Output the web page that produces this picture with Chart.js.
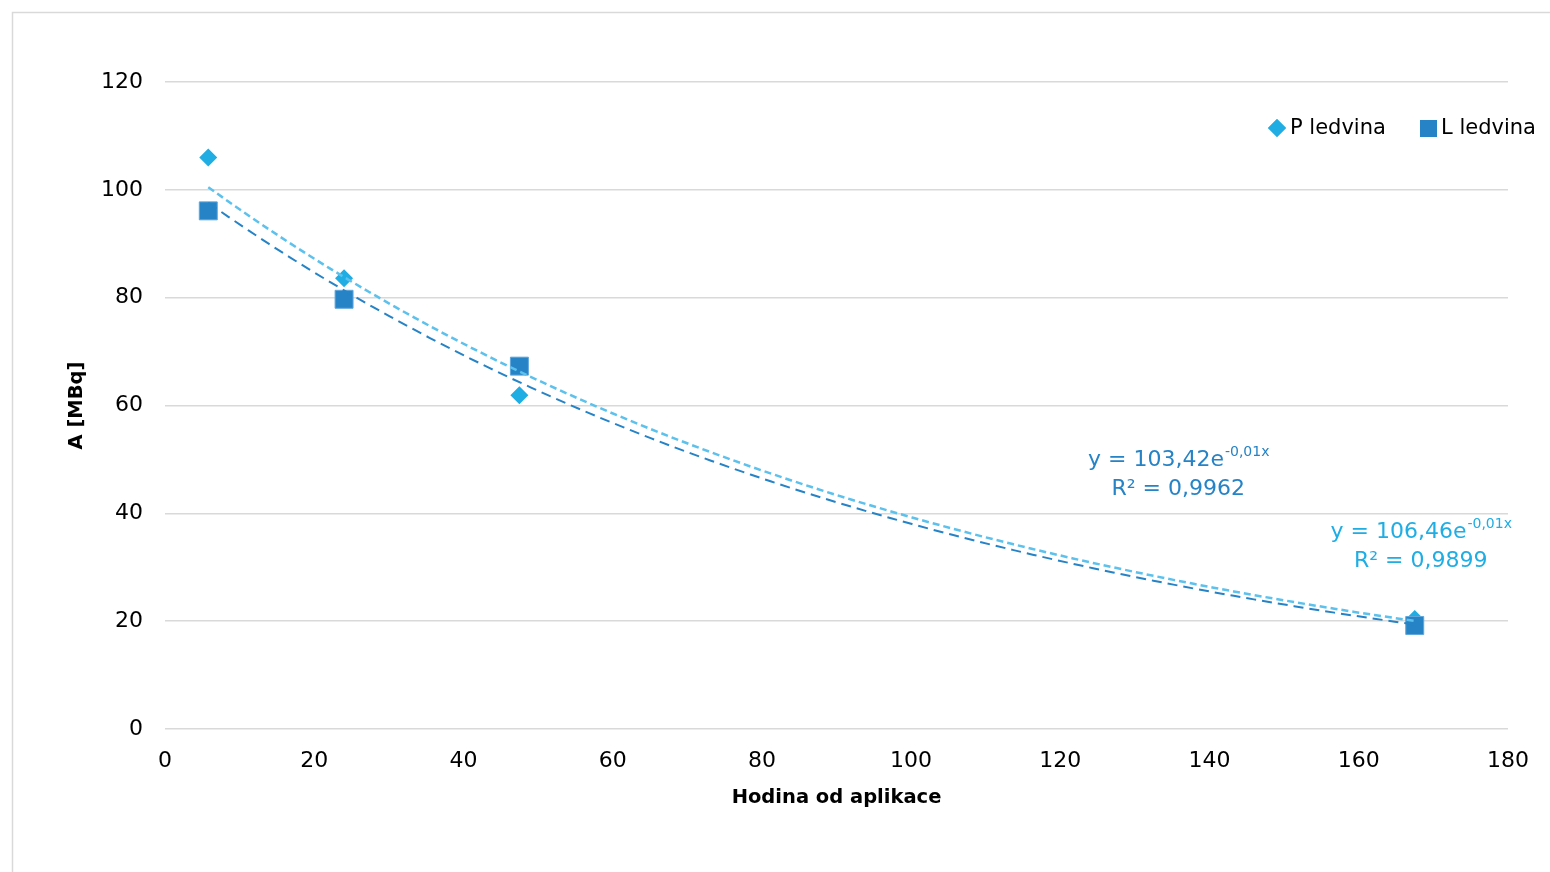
<!DOCTYPE html>
<html><head><meta charset="utf-8">
<script src="https://cdn.jsdelivr.net/npm/chart.js@4"></script>
<style>html,body{margin:0;padding:0;background:#fff;overflow:hidden}</style>
</head><body>
<canvas id="c" width="1550" height="872" style="width:1550px;height:872px;display:block"></canvas>
<script>
// ---- data ----
const hours = [5.8, 24, 47.5, 167.5];
const pLedvina = [106.0, 83.6, 61.9, 20.4];
const lLedvina = [96.1, 79.7, 67.3, 19.2];
const xTickValues = [0, 20, 40, 60, 80, 100, 120, 140, 160, 180];
const yTickValues = [0, 20, 40, 60, 80, 100, 120];
const seriesNames = ['P ledvina', 'L ledvina'];
const eqP = ['y = 106,46e', '-0,01x', 'R² = 0,9899'];
const eqL = ['y = 103,42e', '-0,01x', 'R² = 0,9962'];
const eqPAnchor = [168.3, 36.5];
const eqLAnchor = [135.8, 49.9];
const xTitle = 'Hodina od aplikace';
const yTitle = 'A [MBq]';

const C_P = '#1FADE4';
const C_PT = '#5CC1EC';
const C_L = '#2683C6';
const FONT = '"DejaVu Sans", sans-serif';

// exponential least-squares fit (Excel-style trendline) from the data
function expFit(xs, ys) {
  const n = xs.length;
  const ly = ys.map(Math.log);
  const mx = xs.reduce((a, b) => a + b, 0) / n;
  const my = ly.reduce((a, b) => a + b, 0) / n;
  let sxx = 0, sxy = 0;
  for (let i = 0; i < n; i++) { sxx += (xs[i] - mx) ** 2; sxy += (xs[i] - mx) * (ly[i] - my); }
  const b = sxy / sxx;
  return { a: Math.exp(my - b * mx), b };
}
function trendPoints(xs, ys) {
  const f = expFit(xs, ys);
  const x0 = Math.min(...xs), x1 = Math.max(...xs);
  const pts = [];
  const N = 60;
  for (let i = 0; i <= N; i++) {
    const x = x0 + (x1 - x0) * i / N;
    pts.push({ x, y: f.a * Math.exp(f.b * x) });
  }
  return pts;
}
const toXY = (xs, ys) => xs.map((x, i) => ({ x, y: ys[i] }));

const framePlugin = {
  id: 'frame',
  beforeDraw(chart) {
    const ctx = chart.ctx;
    ctx.save();
    ctx.fillStyle = '#fff';
    ctx.fillRect(0, 0, chart.width, chart.height);
    ctx.strokeStyle = '#d9d9d9';
    ctx.lineWidth = 1.5;
    ctx.beginPath();
    ctx.moveTo(12.5, chart.height + 5);
    ctx.lineTo(12.5, 12.5);
    ctx.lineTo(chart.width + 5, 12.5);
    ctx.stroke();
    ctx.restore();
  }
};

const overlayPlugin = {
  id: 'overlay',
  afterDraw(chart) {
    const ctx = chart.ctx;
    const xs = chart.scales.x, ys = chart.scales.y;
    ctx.save();
    // legend
    ctx.textBaseline = 'middle';
    ctx.textAlign = 'left';
    ctx.font = '21px ' + FONT;
    ctx.fillStyle = C_P;
    Chart.helpers.drawPoint(ctx, { pointStyle: 'rectRot', radius: 9, borderWidth: 0 }, 1277, 128);
    ctx.fill();
    ctx.fillStyle = '#000';
    ctx.fillText(seriesNames[0], 1290, 129);
    ctx.fillStyle = C_L;
    ctx.fillRect(1420, 120, 17, 17);
    ctx.fillStyle = '#000';
    ctx.fillText(seriesNames[1], 1441, 129);

    // equations
    function drawEq(eq, anchor, color) {
      const cx = xs.getPixelForValue(anchor[0]);
      const cy = ys.getPixelForValue(anchor[1]);
      ctx.fillStyle = color;
      ctx.textBaseline = 'middle';
      ctx.font = '22px ' + FONT;
      const w1 = ctx.measureText(eq[0]).width;
      ctx.font = '14px ' + FONT;
      const w2 = ctx.measureText(eq[1]).width;
      const sx = cx - (w1 + w2) / 2;
      ctx.textAlign = 'left';
      ctx.font = '22px ' + FONT;
      ctx.fillText(eq[0], sx, cy);
      ctx.font = '14px ' + FONT;
      ctx.fillText(eq[1], sx + w1 + 1, cy - 8);
      ctx.font = '22px ' + FONT;
      ctx.textAlign = 'center';
      ctx.fillText(eq[2], cx, cy + 29);
    }
    drawEq(eqL, eqLAnchor, C_L);
    drawEq(eqP, eqPAnchor, C_P);
    ctx.restore();
  }
};

new Chart(document.getElementById('c'), {
  type: 'scatter',
  data: {
    datasets: [
      { label: seriesNames[0] + ' trend', type: 'line', data: trendPoints(hours, pLedvina),
        borderColor: C_PT, borderWidth: 2.5, borderDash: [7, 4], pointRadius: 0, fill: false, order: 0 },
      { label: seriesNames[1] + ' trend', type: 'line', data: trendPoints(hours, lLedvina),
        borderColor: C_L, borderWidth: 2, borderDash: [10, 6], pointRadius: 0, fill: false, order: 1 },
      { label: seriesNames[0], data: toXY(hours, pLedvina), pointStyle: 'rectRot', pointRadius: 9,
        backgroundColor: C_P, borderColor: C_P, borderWidth: 0, order: 3 },
      { label: seriesNames[1], data: toXY(hours, lLedvina), pointStyle: 'rect', pointRadius: 12.7,
        backgroundColor: C_L, borderColor: '#5fa6dc', borderWidth: 1, order: 2 }
    ]
  },
  options: {
    responsive: false,
    animation: false,
    devicePixelRatio: 1,
    layout: { padding: { top: 82, right: 42, bottom: 0, left: 0 } },
    plugins: { legend: { display: false }, tooltip: { enabled: false } },
    scales: {
      x: {
        type: 'linear', min: 0, max: 180,
        afterBuildTicks: s => { s.ticks = xTickValues.map(v => ({ value: v })); },
        ticks: { color: '#000', font: { size: 22, family: FONT }, padding: 11, maxRotation: 0 },
        grid: { display: false },
        border: { display: false },
        title: { display: true, text: xTitle, color: '#000',
                 font: { size: 19.5, weight: 'bold', family: FONT }, padding: { top: 0, bottom: 62 } },
        afterFit: s => { s.height = 143; }
      },
      y: {
        type: 'linear', min: 0, max: 120,
        afterBuildTicks: s => { s.ticks = yTickValues.map(v => ({ value: v })); },
        ticks: { color: '#000', font: { size: 22, family: FONT }, padding: 22 },
        grid: { color: '#d9d9d9', lineWidth: 1.5, drawTicks: false },
        border: { display: false },
        title: { display: true, text: yTitle, color: '#000',
                 font: { size: 19.5, weight: 'bold', family: FONT }, padding: { top: 65, bottom: 0 } },
        afterFit: s => { s.width = 165; }
      }
    }
  },
  plugins: [framePlugin, overlayPlugin]
});
</script>
</body></html>
